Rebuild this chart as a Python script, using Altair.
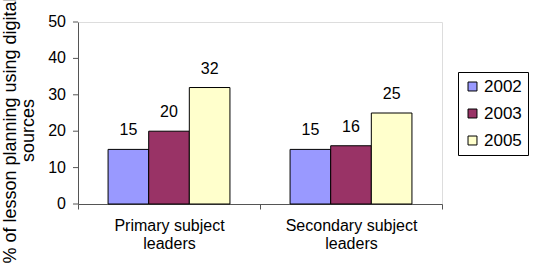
import altair as alt
import pandas as pd

groups = ["Primary subject leaders", "Secondary subject leaders"]
years = ["2002", "2003", "2005"]
values_2002 = [15, 15]
values_2003 = [20, 16]
values_2005 = [32, 25]
colors = ["#9999FF", "#993366", "#FFFFCC"]
y_ticks = [0, 10, 20, 30, 40, 50]

rows = []
for i, g in enumerate(groups):
    for y, vals in zip(years, [values_2002, values_2003, values_2005]):
        rows.append({"group": g, "year": y, "value": vals[i]})
df = pd.DataFrame(rows)
ticks_df = pd.DataFrame({"value": y_ticks})

FONT = "Liberation Sans"
AXIS_COLOR = "#555555"
yscale = alt.Scale(domain=[0, 50])

x = alt.X(
    "group:N",
    sort=groups,
    scale=alt.Scale(paddingInner=0, paddingOuter=0),
    axis=alt.Axis(
        title=None,
        labelAngle=0,
        labelExpr="datum.label == 'Primary subject leaders' ? ['Primary subject', 'leaders'] : (datum.label == 'Secondary subject leaders' ? ['Secondary subject', 'leaders'] : '')",
        tickBand="extent",
        tickSize=5,
        labelPadding=8,
        labelFontSize=16,
        labelFont=FONT,
        labelColor="black",
        labelLineHeight=18,
        labelOverlap=False,
        domainColor=AXIS_COLOR,
        tickColor=AXIS_COLOR,
    ),
)
xoff = alt.XOffset("year:N", sort=years, scale=alt.Scale(paddingInner=0, paddingOuter=0.74))
y = alt.Y(
    "value:Q",
    scale=yscale,
    axis=alt.Axis(
        labels=False,
        ticks=False,
        grid=False,
        title=["% of lesson planning using digital", "sources"],
        titleFont=FONT,
        titleFontSize=18,
        titleFontWeight="normal",
        titleColor="black",
        titleAngle=-90,
        titleX=-77,
        titleY=108,
        titleAlign="center",
        titleBaseline="top",
        titleLineHeight=18,
        domainColor=AXIS_COLOR,
    ),
)

bars = alt.Chart(df).mark_bar(stroke="black", strokeWidth=1).encode(
    x=x,
    xOffset=xoff,
    y=y,
    color=alt.Color(
        "year:N",
        sort=years,
        scale=alt.Scale(domain=years, range=colors),
        legend=alt.Legend(
            title=None,
            orient="none",
            legendX=380,
            legendY=50,
            symbolType="square",
            symbolSize=80,
            symbolStrokeColor="black",
            symbolStrokeWidth=1,
            labelFontSize=17,
            labelFont=FONT,
            labelColor="black",
            rowPadding=9,
            labelOffset=3,
            strokeColor="black",
            padding=6,
            fillColor="white",
        ),
    ),
)

labels = alt.Chart(df).mark_text(
    baseline="bottom", dy=-11, fontSize=16, font=FONT, color="black"
).encode(
    x=x,
    xOffset=xoff,
    y=y,
    text="value:Q",
)

tick_marks = alt.Chart(ticks_df).mark_rule(color=AXIS_COLOR, strokeWidth=1).encode(
    x=alt.value(-5),
    x2=alt.value(0),
    y=y,
)

tick_labels = alt.Chart(ticks_df).mark_text(
    align="right", baseline="middle", fontSize=16, font=FONT, color="black"
).encode(
    x=alt.value(-12),
    y=y,
    text="value:Q",
)

chart = alt.layer(bars, labels, tick_marks, tick_labels).properties(
    width=364,
    height=182,
    autosize=alt.AutoSizeParams(type="none"),
    padding={"left": 78, "top": 22, "right": 91, "bottom": 64},
).configure_view(stroke=None).configure(background="white")

chart.save("out.html", embed_options={"renderer": "svg", "actions": False})
